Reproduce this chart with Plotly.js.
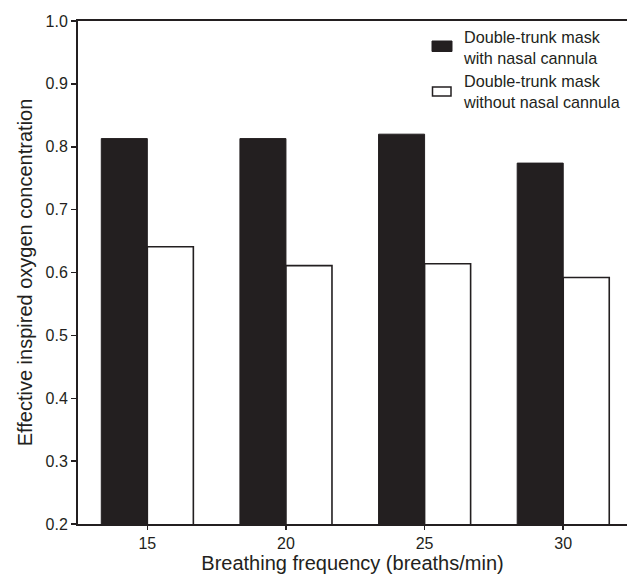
<!DOCTYPE html>
<html>
<head>
<meta charset="utf-8">
<script src="https://cdn.plot.ly/plotly-3.0.1.min.js"></script>
<style>html,body{margin:0;padding:0;background:#fff;}#chart{width:627px;height:574px;}</style>
</head>
<body>
<div id="chart"></div>
<script>
const frequencies = ['15', '20', '25', '30'];
const withCannula = [0.813, 0.813, 0.820, 0.774];
const withoutCannula = [0.641, 0.611, 0.614, 0.592];
const seriesNames = ['Double-trunk mask<br>with nasal cannula', 'Double-trunk mask<br>without nasal cannula'];
const yTicks = [0.2, 0.3, 0.4, 0.5, 0.6, 0.7, 0.8, 0.9, 1.0];

const ink = '#231f20';
const fontFam = 'Liberation Sans, Arial, sans-serif';

// plot area geometry (pixels) used to place the hand-made legend
const L = 78, R = 0, T = 21, B = 50, W = 627, H = 574;
const pw = W - L - R, ph = H - T - B;
const px = x => (x - L) / pw;
const py = y => (H - B - y) / ph;

const traces = [
  {
    type: 'bar', x: frequencies, y: withCannula, name: seriesNames[0].replace('<br>', ' '),
    marker: {color: ink, line: {color: ink, width: 1}}
  },
  {
    type: 'bar', x: frequencies, y: withoutCannula, name: seriesNames[1].replace('<br>', ' '),
    marker: {color: '#ffffff', line: {color: ink, width: 1.6}}
  }
];

const legendShapes = [
  {type: 'rect', xref: 'paper', yref: 'paper', x0: px(432), x1: px(452), y0: py(51.5), y1: py(41),
   fillcolor: ink, line: {color: ink, width: 1}},
  {type: 'rect', xref: 'paper', yref: 'paper', x0: px(432.5), x1: px(451), y0: py(96), y1: py(87),
   fillcolor: '#ffffff', line: {color: ink, width: 1.5}}
];

const entryCenters = [47.5, 91.5];
const legendAnnotations = seriesNames.map((t, i) => ({
  xref: 'paper', yref: 'paper', x: px(461), y: py(entryCenters[i]),
  xanchor: 'left', yanchor: 'middle', align: 'left', showarrow: false, text: t,
  font: {family: fontFam, size: 16.2, color: ink}
}));

const layout = {
  width: W, height: H,
  margin: {l: L, r: R, t: T, b: B, pad: 0},
  paper_bgcolor: '#ffffff', plot_bgcolor: '#ffffff',
  font: {family: fontFam, color: ink, size: 16},
  barmode: 'group', bargap: 0.336, bargroupgap: 0,
  showlegend: false,
  shapes: legendShapes,
  annotations: legendAnnotations,
  xaxis: {
    type: 'category', range: [-0.5, 3.46],
    showline: true, linecolor: ink, linewidth: 2, mirror: true,
    ticks: 'outside', ticklen: 4, tickwidth: 1.5, tickcolor: ink,
    showgrid: false, zeroline: false,
    tickfont: {size: 16, color: ink},
    title: {text: 'Breathing frequency (breaths/min)', font: {size: 20, color: ink}, standoff: 4}
  },
  yaxis: {
    range: [0.2, 1.0], tickvals: yTicks, ticktext: yTicks.map(v => v.toFixed(1)),
    showline: true, linecolor: ink, linewidth: 2,
    ticks: 'outside', ticklen: 5, tickwidth: 1.5, tickcolor: ink,
    showgrid: false, zeroline: false,
    tickfont: {size: 16, color: ink},
    title: {text: 'Effective inspired oxygen concentration', font: {size: 20, color: ink}, standoff: 8}
  }
};

Plotly.newPlot('chart', traces, layout, {displayModeBar: false, staticPlot: true});
</script>
</body>
</html>
